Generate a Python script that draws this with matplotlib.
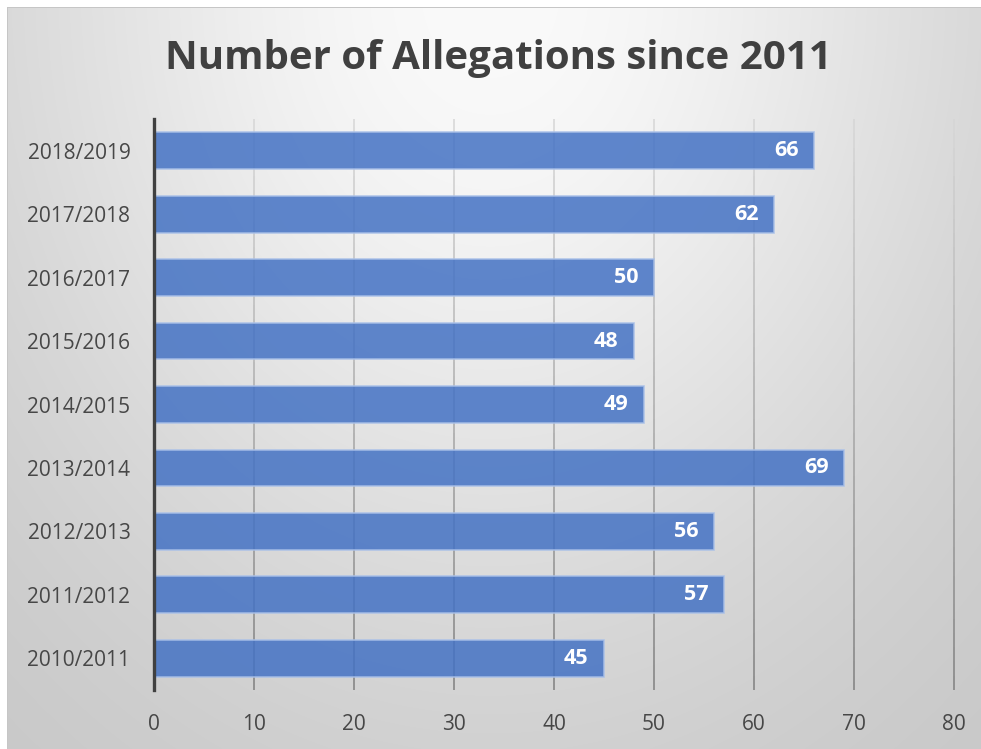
import matplotlib.pyplot as plt
import matplotlib as mpl
import numpy as np
from matplotlib.collections import LineCollection

mpl.rcParams['font.family'] = ['Open Sans', 'DejaVu Sans']

# 数据
seasons = ['2010/2011', '2011/2012', '2012/2013', '2013/2014', '2014/2015',
           '2015/2016', '2016/2017', '2017/2018', '2018/2019']
allegations = [45, 57, 56, 69, 49, 48, 50, 62, 66]
x_ticks = [0, 10, 20, 30, 40, 50, 60, 70, 80]

W, H = 981, 749
fig = plt.figure(figsize=(W/100, H/100), dpi=100)

# 背景: 径向渐变, 左上角留白边
bg = fig.add_axes([0, 0, 1, 1], zorder=-10)
bg.set_axis_off()
yy, xx = np.mgrid[0:H, 0:W]
r2 = ((xx - 490) / 490.0)**2 + ((yy + 10) / 620.0)**2
val = 196 + 54*np.exp(-0.94*r2)
img = np.dstack([val, val, val]) / 255.0
img[:7, :, :] = 1.0
img[:, :7, :] = 1.0
img[7, 7:, :] = 0.78
img[7:, 7, :] = 0.78
bg.imshow(img, extent=[0, W, H, 0], aspect='auto', interpolation='bilinear')
bg.set_xlim(0, W)
bg.set_ylim(H, 0)

ax = fig.add_axes([154/W, 1-690/H, 800/W, 571/H])
ax.patch.set_alpha(0)

y = np.arange(len(seasons))
ax.barh(y, allegations, height=0.58, color='#4472C4', alpha=0.85,
        edgecolor='#A9C0E8', linewidth=1.2, zorder=3)

# 数值标签放在柱子内侧末端
for yi, v in zip(y, allegations):
    ax.annotate(str(v), xy=(v, yi), xytext=(-11, 0), textcoords='offset points',
                ha='right', va='center', color='white', fontsize=15.5,
                fontweight='bold', zorder=4)

ax.set_xlim(0, 80)
ax.set_ylim(-0.5, len(seasons) - 0.5)

# 竖直网格线, 上浅下深
segs, cols = [], []
ny = 40
ys = np.linspace(-0.5, len(seasons) - 0.5, ny + 1)
for xt in x_ticks[1:]:
    for i in range(ny):
        segs.append([(xt, ys[i]), (xt, ys[i+1])])
        t = i / (ny - 1)
        g = 0.50 + 0.34*t
        cols.append((g, g, g))
ax.add_collection(LineCollection(segs, colors=cols, linewidths=1.1, zorder=1,
                                 clip_on=False))

ax.set_xticks(x_ticks)
ax.set_yticks(y)
ax.set_yticklabels(seasons)
ax.tick_params(axis='both', length=0, labelsize=15, labelcolor='#474747')
ax.tick_params(axis='x', pad=17)
ax.tick_params(axis='y', pad=17)

for s in ['top', 'right', 'bottom']:
    ax.spines[s].set_visible(False)
ax.spines['left'].set_color('#404040')
ax.spines['left'].set_linewidth(2.4)
ax.spines['left'].set_zorder(5)

fig.text(0.508, 1-58/H, 'Number of Allegations since 2011', ha='center',
         va='center', fontsize=29, fontweight='bold', color='#404040')

fig.savefig('out.png', dpi=100)
